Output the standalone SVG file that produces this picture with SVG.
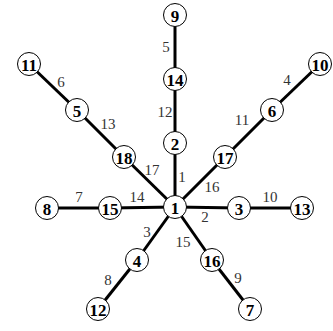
<svg xmlns="http://www.w3.org/2000/svg" width="333" height="331" viewBox="0 0 333 331">
<style>
.e{stroke:#000;stroke-width:3}
.n circle{fill:#fff;stroke:#000;stroke-width:1}
.n text{font-family:"Liberation Serif",serif;font-size:17px;font-weight:bold;text-anchor:middle;dominant-baseline:central}
.l{font-family:"Liberation Serif",serif;font-size:15px;fill:#333;text-anchor:middle;dominant-baseline:central}
</style>
<rect width="333" height="331" fill="#fff"/>
<g id="connectors">
<line class="e" x1="175" y1="207" x2="175" y2="143"/>
<line class="e" x1="175" y1="143" x2="175" y2="79"/>
<line class="e" x1="175" y1="79" x2="175" y2="15"/>
<line class="e" x1="175" y1="207" x2="124" y2="157"/>
<line class="e" x1="124" y1="157" x2="77" y2="110"/>
<line class="e" x1="77" y1="110" x2="29" y2="64"/>
<line class="e" x1="175" y1="207" x2="225" y2="157"/>
<line class="e" x1="225" y1="157" x2="272" y2="110"/>
<line class="e" x1="272" y1="110" x2="320" y2="64"/>
<line class="e" x1="175" y1="207" x2="110" y2="208"/>
<line class="e" x1="110" y1="208" x2="47" y2="208"/>
<line class="e" x1="175" y1="207" x2="239" y2="208"/>
<line class="e" x1="239" y1="208" x2="302" y2="208"/>
<line class="e" x1="175" y1="207" x2="137" y2="260"/>
<line class="e" x1="137" y1="260" x2="98" y2="309"/>
<line class="e" x1="175" y1="207" x2="212" y2="260"/>
<line class="e" x1="212" y1="260" x2="250" y2="309"/>
</g>
<g id="edge-labels">
<text class="l" x="166" y="47">5</text>
<text class="l" x="165" y="112">12</text>
<text class="l" x="182" y="177">1</text>
<text class="l" x="61" y="82">6</text>
<text class="l" x="108" y="124">13</text>
<text class="l" x="152" y="170">17</text>
<text class="l" x="287" y="80">4</text>
<text class="l" x="242" y="120">11</text>
<text class="l" x="212" y="187">16</text>
<text class="l" x="79" y="197">7</text>
<text class="l" x="137" y="197">14</text>
<text class="l" x="270" y="197">10</text>
<text class="l" x="205" y="217">2</text>
<text class="l" x="147" y="232">3</text>
<text class="l" x="183" y="242">15</text>
<text class="l" x="108" y="280">8</text>
<text class="l" x="238" y="278">9</text>
</g>
<g id="n1" class="n"><circle cx="175" cy="207" r="11.5"/><text x="175" y="208">1</text></g>
<g id="n2" class="n"><circle cx="175" cy="143" r="11.5"/><text x="175" y="144">2</text></g>
<g id="n14" class="n"><circle cx="175" cy="79" r="11.5"/><text x="175" y="80">14</text></g>
<g id="n9" class="n"><circle cx="175" cy="15" r="11.5"/><text x="175" y="16">9</text></g>
<g id="n18" class="n"><circle cx="124" cy="157" r="11.5"/><text x="124" y="158">18</text></g>
<g id="n5" class="n"><circle cx="77" cy="110" r="11.5"/><text x="77" y="111">5</text></g>
<g id="n11" class="n"><circle cx="29" cy="64" r="11.5"/><text x="29" y="65">11</text></g>
<g id="n17" class="n"><circle cx="225" cy="157" r="11.5"/><text x="225" y="158">17</text></g>
<g id="n6" class="n"><circle cx="272" cy="110" r="11.5"/><text x="272" y="111">6</text></g>
<g id="n10" class="n"><circle cx="320" cy="64" r="11.5"/><text x="320" y="65">10</text></g>
<g id="n15" class="n"><circle cx="110" cy="208" r="11.5"/><text x="110" y="209">15</text></g>
<g id="n8" class="n"><circle cx="47" cy="208" r="11.5"/><text x="47" y="209">8</text></g>
<g id="n3" class="n"><circle cx="239" cy="208" r="11.5"/><text x="239" y="209">3</text></g>
<g id="n13" class="n"><circle cx="302" cy="208" r="11.5"/><text x="302" y="209">13</text></g>
<g id="n4" class="n"><circle cx="137" cy="260" r="11.5"/><text x="137" y="261">4</text></g>
<g id="n12" class="n"><circle cx="98" cy="309" r="11.5"/><text x="98" y="310">12</text></g>
<g id="n16" class="n"><circle cx="212" cy="260" r="11.5"/><text x="212" y="261">16</text></g>
<g id="n7" class="n"><circle cx="250" cy="309" r="11.5"/><text x="250" y="310">7</text></g>
</svg>
